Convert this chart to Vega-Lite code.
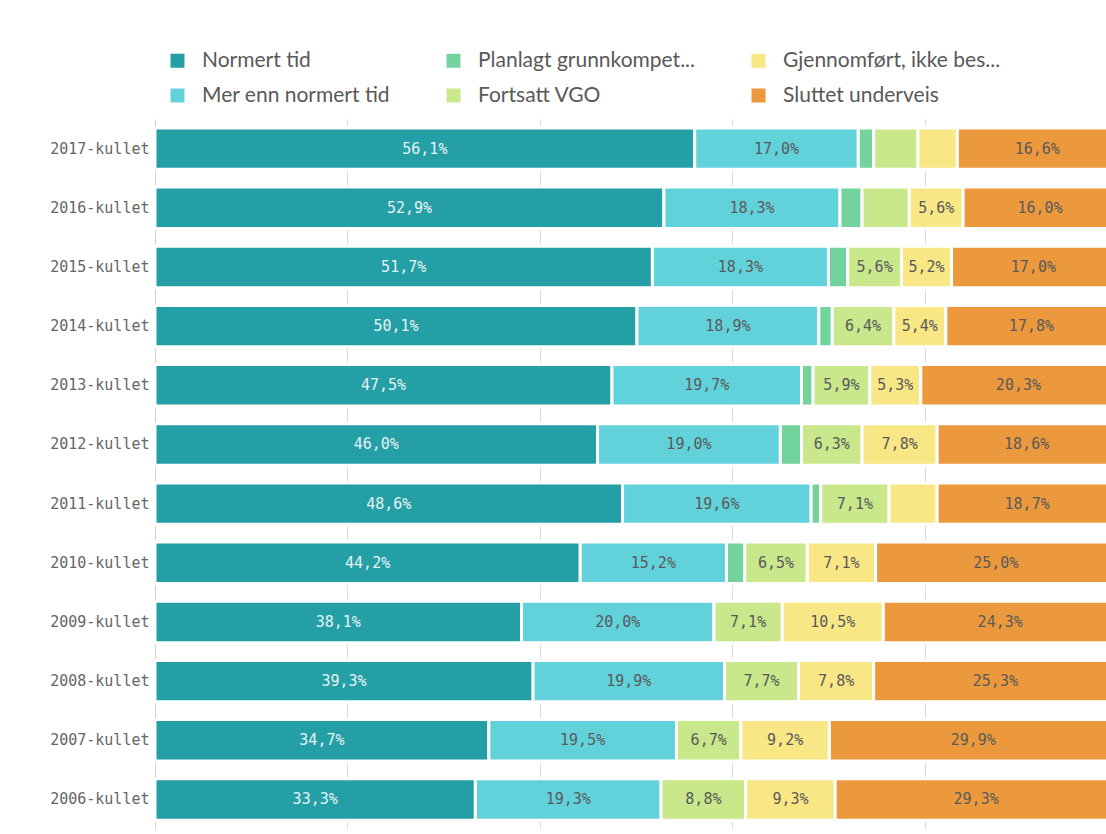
{
  "$schema": "https://vega.github.io/schema/vega-lite/v6.json",
  "width": 951,
  "height": 710,
  "autosize": {"type": "none"},
  "padding": {"left": 155, "top": 119, "right": 0, "bottom": 6},
  "background": "white",
  "config": {"view": {"stroke": null}, "font": "Lato"},
  "data": {
    "values": [
      {"k": "2017-kullet", "s": "Normert tid", "v": 56.1},
      {"k": "2017-kullet", "s": "Mer enn normert tid", "v": 17.0},
      {"k": "2017-kullet", "s": "Planlagt grunnkompetanse", "v": 1.6},
      {"k": "2017-kullet", "s": "Fortsatt VGO", "v": 4.6},
      {"k": "2017-kullet", "s": "Gjennomført, ikke bestått", "v": 4.1},
      {"k": "2017-kullet", "s": "Sluttet underveis", "v": 16.6},
      {"k": "2016-kullet", "s": "Normert tid", "v": 52.9},
      {"k": "2016-kullet", "s": "Mer enn normert tid", "v": 18.3},
      {"k": "2016-kullet", "s": "Planlagt grunnkompetanse", "v": 2.3},
      {"k": "2016-kullet", "s": "Fortsatt VGO", "v": 4.9},
      {"k": "2016-kullet", "s": "Gjennomført, ikke bestått", "v": 5.6},
      {"k": "2016-kullet", "s": "Sluttet underveis", "v": 16.0},
      {"k": "2015-kullet", "s": "Normert tid", "v": 51.7},
      {"k": "2015-kullet", "s": "Mer enn normert tid", "v": 18.3},
      {"k": "2015-kullet", "s": "Planlagt grunnkompetanse", "v": 2.0},
      {"k": "2015-kullet", "s": "Fortsatt VGO", "v": 5.6},
      {"k": "2015-kullet", "s": "Gjennomført, ikke bestått", "v": 5.2},
      {"k": "2015-kullet", "s": "Sluttet underveis", "v": 17.0},
      {"k": "2014-kullet", "s": "Normert tid", "v": 50.1},
      {"k": "2014-kullet", "s": "Mer enn normert tid", "v": 18.9},
      {"k": "2014-kullet", "s": "Planlagt grunnkompetanse", "v": 1.4},
      {"k": "2014-kullet", "s": "Fortsatt VGO", "v": 6.4},
      {"k": "2014-kullet", "s": "Gjennomført, ikke bestått", "v": 5.4},
      {"k": "2014-kullet", "s": "Sluttet underveis", "v": 17.8},
      {"k": "2013-kullet", "s": "Normert tid", "v": 47.5},
      {"k": "2013-kullet", "s": "Mer enn normert tid", "v": 19.7},
      {"k": "2013-kullet", "s": "Planlagt grunnkompetanse", "v": 1.2},
      {"k": "2013-kullet", "s": "Fortsatt VGO", "v": 5.9},
      {"k": "2013-kullet", "s": "Gjennomført, ikke bestått", "v": 5.3},
      {"k": "2013-kullet", "s": "Sluttet underveis", "v": 20.3},
      {"k": "2012-kullet", "s": "Normert tid", "v": 46.0},
      {"k": "2012-kullet", "s": "Mer enn normert tid", "v": 19.0},
      {"k": "2012-kullet", "s": "Planlagt grunnkompetanse", "v": 2.2},
      {"k": "2012-kullet", "s": "Fortsatt VGO", "v": 6.3},
      {"k": "2012-kullet", "s": "Gjennomført, ikke bestått", "v": 7.8},
      {"k": "2012-kullet", "s": "Sluttet underveis", "v": 18.6},
      {"k": "2011-kullet", "s": "Normert tid", "v": 48.6},
      {"k": "2011-kullet", "s": "Mer enn normert tid", "v": 19.6},
      {"k": "2011-kullet", "s": "Planlagt grunnkompetanse", "v": 1.0},
      {"k": "2011-kullet", "s": "Fortsatt VGO", "v": 7.1},
      {"k": "2011-kullet", "s": "Gjennomført, ikke bestått", "v": 5.0},
      {"k": "2011-kullet", "s": "Sluttet underveis", "v": 18.7},
      {"k": "2010-kullet", "s": "Normert tid", "v": 44.2},
      {"k": "2010-kullet", "s": "Mer enn normert tid", "v": 15.2},
      {"k": "2010-kullet", "s": "Planlagt grunnkompetanse", "v": 1.9},
      {"k": "2010-kullet", "s": "Fortsatt VGO", "v": 6.5},
      {"k": "2010-kullet", "s": "Gjennomført, ikke bestått", "v": 7.1},
      {"k": "2010-kullet", "s": "Sluttet underveis", "v": 25.0},
      {"k": "2009-kullet", "s": "Normert tid", "v": 38.1},
      {"k": "2009-kullet", "s": "Mer enn normert tid", "v": 20.0},
      {"k": "2009-kullet", "s": "Fortsatt VGO", "v": 7.1},
      {"k": "2009-kullet", "s": "Gjennomført, ikke bestått", "v": 10.5},
      {"k": "2009-kullet", "s": "Sluttet underveis", "v": 24.3},
      {"k": "2008-kullet", "s": "Normert tid", "v": 39.3},
      {"k": "2008-kullet", "s": "Mer enn normert tid", "v": 19.9},
      {"k": "2008-kullet", "s": "Fortsatt VGO", "v": 7.7},
      {"k": "2008-kullet", "s": "Gjennomført, ikke bestått", "v": 7.8},
      {"k": "2008-kullet", "s": "Sluttet underveis", "v": 25.3},
      {"k": "2007-kullet", "s": "Normert tid", "v": 34.7},
      {"k": "2007-kullet", "s": "Mer enn normert tid", "v": 19.5},
      {"k": "2007-kullet", "s": "Fortsatt VGO", "v": 6.7},
      {"k": "2007-kullet", "s": "Gjennomført, ikke bestått", "v": 9.2},
      {"k": "2007-kullet", "s": "Sluttet underveis", "v": 29.9},
      {"k": "2006-kullet", "s": "Normert tid", "v": 33.3},
      {"k": "2006-kullet", "s": "Mer enn normert tid", "v": 19.3},
      {"k": "2006-kullet", "s": "Fortsatt VGO", "v": 8.8},
      {"k": "2006-kullet", "s": "Gjennomført, ikke bestått", "v": 9.3},
      {"k": "2006-kullet", "s": "Sluttet underveis", "v": 29.3}
    ]
  },
  "transform": [
    {"calculate": "indexof(['Normert tid','Mer enn normert tid','Planlagt grunnkompetanse','Fortsatt VGO','Gjennomført, ikke bestått','Sluttet underveis'], datum.s)", "as": "o"},
    {"stack": "v", "groupby": ["k"], "sort": [{"field": "o", "order": "ascending"}], "as": ["v0", "v1"]},
    {"calculate": "(datum.v0 + datum.v1) / 2", "as": "mid"},
    {"calculate": "replace(format(datum.v, '.1f'), '.', ',') + '%'", "as": "lbl"}
  ],
  "encoding": {
    "y": {
      "field": "k",
      "type": "nominal",
      "sort": "descending",
      "scale": {"paddingInner": 0.3, "paddingOuter": 0.15},
      "axis": {
        "title": null,
        "labelFont": "DejaVu Sans Mono",
        "labelFontSize": 15,
        "labelColor": "#666666",
        "ticks": false,
        "domainColor": "#d0d0d0",
        "domainWidth": 1,
        "labelPadding": 6
      }
    }
  },
  "layer": [
    {
      "mark": {"type": "bar", "stroke": "white", "strokeWidth": 3, "clip": true},
      "encoding": {
        "x": {
          "field": "v0",
          "type": "quantitative",
          "scale": {"domain": [0, 98.85], "nice": false, "zero": true},
          "axis": {
            "title": null,
            "labels": false,
            "ticks": false,
            "domain": false,
            "grid": true,
            "gridColor": "#dcdcdc",
            "gridWidth": 1,
            "values": [20, 40, 60, 80]
          }
        },
        "x2": {"field": "v1"},
        "color": {
          "field": "s",
          "type": "nominal",
          "scale": {
            "domain": ["Normert tid", "Mer enn normert tid", "Planlagt grunnkompetanse", "Fortsatt VGO", "Gjennomført, ikke bestått", "Sluttet underveis"],
            "range": ["#249fa6", "#62d2da", "#72d39c", "#c9e78b", "#f8e784", "#ec983d"]
          },
          "legend": {
            "title": null,
            "orient": "none",
            "legendX": 12,
            "legendY": -69,
            "columns": 3,
            "gridAlign": "each",
            "columnPadding": 52,
            "rowPadding": 13,
            "symbolType": "square",
            "symbolSize": 196,
            "symbolStrokeWidth": 0,
            "labelFont": "Lato",
            "labelFontSize": 21,
            "labelColor": "#595959",
            "labelOffset": 14,
            "labelLimit": 400,
            "labelExpr": "datum.label == 'Planlagt grunnkompetanse' ? 'Planlagt grunnkompet...' : datum.label == 'Gjennomført, ikke bestått' ? 'Gjennomført, ikke bes...' : datum.label"
          }
        }
      }
    },
    {
      "transform": [{"filter": "datum.v >= 5.1"}],
      "mark": {"type": "text", "font": "DejaVu Sans Mono", "fontSize": 15, "baseline": "middle", "align": "center"},
      "encoding": {
        "x": {"field": "mid", "type": "quantitative"},
        "text": {"field": "lbl"},
        "color": {"condition": {"test": "datum.o == 0", "value": "#e4f3f3"}, "value": "#5a5a5a"}
      }
    }
  ]
}
